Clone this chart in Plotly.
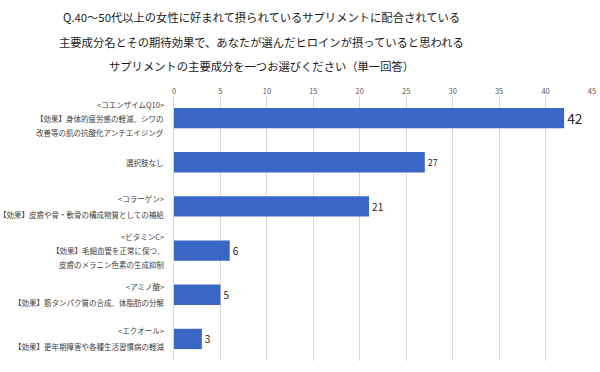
import plotly.graph_objects as go

categories = ["コエンザイムQ10", "選択肢なし", "コラーゲン", "ビタミンC", "アミノ酸", "エクオール"]
label_lines = [
    ["<コエンザイムQ10>", "【効果】身体的疲労感の軽減、シワの", "改善等の肌の抗酸化アンチエイジング"],
    ["選択肢なし"],
    ["<コラーゲン>", "【効果】皮膚や骨・軟骨の構成物質としての補給"],
    ["<ビタミンC>", "【効果】毛細血管を正常に保つ、", "皮膚のメラニン色素の生成抑制"],
    ["<アミノ酸>", "【効果】筋タンパク質の合成、体脂肪の分解"],
    ["<エクオール>", "【効果】更年期障害や各種生活習慣病の軽減"],
]
values = [42, 27, 21, 6, 5, 3]
label_sizes = [17, 9, 10, 10, 10, 10]
title_lines = [
    "Q.40～50代以上の女性に好まれて摂られているサプリメントに配合されている",
    "主要成分名とその期待効果で、あなたが選んだヒロインが摂っていると思われる",
    "サプリメントの主要成分を一つお選びください（単一回答）",
]
tick_vals = [0, 5, 10, 15, 20, 25, 30, 35, 40, 45]

FONT = "Noto Sans CJK JP"

fig = go.Figure()
fig.add_trace(go.Bar(
    x=values, y=categories, orientation="h",
    marker=dict(color="#3A66C6", line=dict(width=0)),
    text=[str(v) for v in values], textposition="outside",
    textfont=dict(size=label_sizes, color="#262626", family=FONT),
    cliponaxis=False, hoverinfo="skip",
))

annotations = []
for cat, lines in zip(categories, label_lines):
    n = len(lines)
    spacing = 14 if n == 3 else 16
    for i, line in enumerate(lines):
        annotations.append(dict(
            x=-0.019, xref="paper", y=cat, yref="y",
            text=line.replace("<", "&lt;").replace(">", "&gt;"),
            showarrow=False, xanchor="right", align="center",
            yshift=((n - 1) / 2 - i) * spacing,
            font=dict(size=7.5, color="#404040", family=FONT),
        ))

title_y = [17, 42, 66]
for line, py in zip(title_lines, title_y):
    annotations.append(dict(
        x=(261 - 174) / 418, xref="paper",
        y=1 + (96 - py) / 265, yref="paper",
        text=line, showarrow=False, xanchor="center", yanchor="middle",
        font=dict(size=11.3, color="#1a1a1a", family=FONT),
    ))

fig.update_layout(
    width=600, height=372,
    margin=dict(l=174, r=8, t=96, b=11, autoexpand=False),
    paper_bgcolor="white", plot_bgcolor="white",
    bargap=0.54,
    showlegend=False,
    font=dict(family=FONT),
    annotations=annotations,
    xaxis=dict(
        side="top", range=[0, 45], tickvals=tick_vals,
        showgrid=True, gridcolor="#D9D9D9", gridwidth=1,
        zeroline=False, showline=False,
        tickfont=dict(size=7.5, color="#595959", family=FONT),
        ticks="", automargin=False,
    ),
    yaxis=dict(
        autorange="reversed", showticklabels=False,
        showline=True, linecolor="#D9D9D9", linewidth=1,
        showgrid=False, ticks="", automargin=False,
    ),
)

fig.write_html(
    "out.html",
    config={"displayModeBar": False},
    post_script="document.body.style.margin='0';document.body.style.overflow='hidden';",
)
